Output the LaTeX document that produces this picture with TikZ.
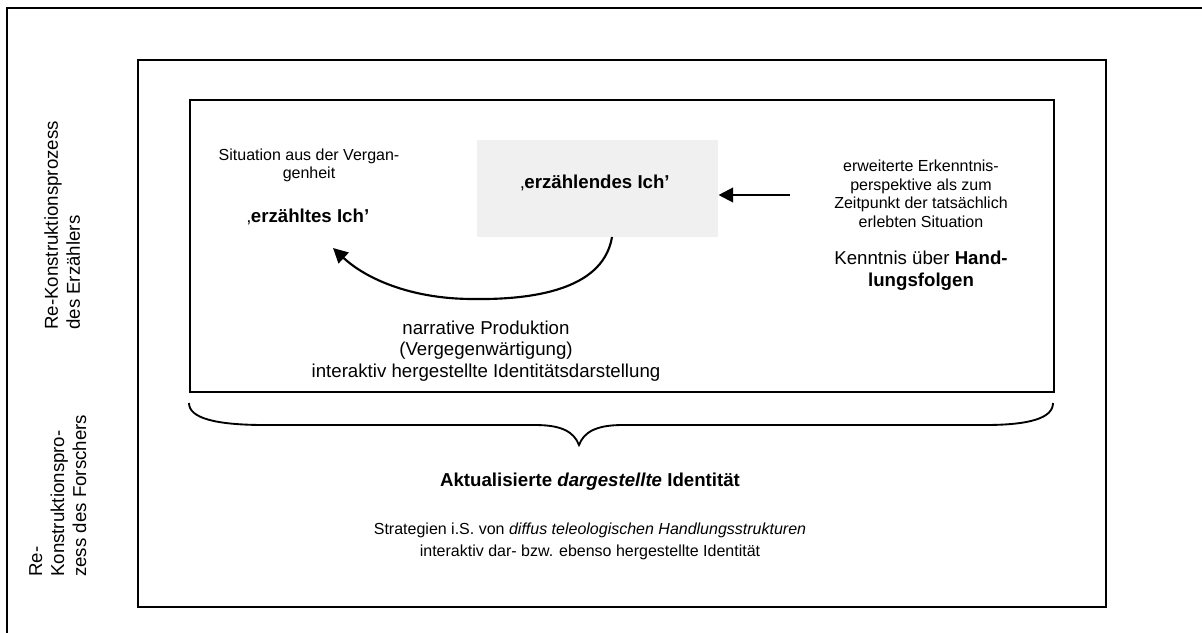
\documentclass[tikz,border=0pt]{standalone}
\usepackage{fontspec}
\setmainfont{Liberation Sans}
\usetikzlibrary{arrows.meta}

\tikzset{
  frame/.style={draw, line width=1.4pt, inner sep=0pt, anchor=north west},
  graybox/.style={fill=black!6, draw=none, inner sep=0pt, anchor=north west},
  small/.style={font=\fontsize{12}{13.9}\selectfont, align=center, inner sep=0pt},
  large/.style={font=\fontsize{14}{16.3}\selectfont, align=center, inner sep=0pt},
  sidetext/.style={font=\fontsize{14}{16.5}\selectfont, align=left, inner sep=0pt,
                   rotate=90, anchor=north west},
  arrowline/.style={line width=1.6pt, -{Triangle[length=11pt,width=11pt]}},
  braceline/.style={line width=1.4pt}
}

\begin{document}
\begin{tikzpicture}[x=0.75pt,y=-0.75pt]
\useasboundingbox (0,0) rectangle (1202,632);
\clip (0,0) rectangle (1202,632);

% outer frame, open towards the page edges
\draw[line width=1.4pt] (7,650) -- (7,8) -- (1220,8);

% boxes
\node[frame, minimum width=726pt, minimum height=410.25pt] (middle) at (137,59) {};
\node[frame, minimum width=648pt, minimum height=219pt] (inner) at (189,99) {};
\node[graybox, minimum width=180.75pt, minimum height=72.75pt] (ich) at (477,140) {};

% side labels
\node[sidetext] (erzaehler) at (44,330) {Re-Konstruktionsprozess\\des Erzählers};
\node[sidetext] (forscher) at (29,577) {Re-\\Konstruktionspro-\\zess des Forschers};

% left column
\node[small] (situation) at (309,165.5) {Situation aus der Vergan-\\genheit};
\node[large] (erzaehlt) at (308,217) {‚\textbf{erzähltes Ich’}};

% centre
\node[large] (ichtext) at (595,183) {‚\textbf{erzählendes Ich’}};

% right column
\node[small] (perspektive) at (921,194) {erweiterte Erkenntnis-\\perspektive als zum\\Zeitpunkt der tatsächlich\\erlebten Situation};
\node[large] (kenntnis) at (921,271) {Kenntnis über \textbf{Hand-}\\\textbf{lungsfolgen}};

% label under the curved arrow
\node[large] (narrativ) at (486,351) {narrative Produktion\\(Vergegenwärtigung)\\interaktiv hergestellte Identitätsdarstellung};

% lower part
\node[large] (aktual) at (590,482) {\textbf{Aktualisierte \textit{dargestellte} Identität}};
\node[small, font=\fontsize{12}{16.5}\selectfont] (strategien) at (590,541)
  {Strategien i.S. von \textit{diffus teleologischen Handlungsstrukturen}\\interaktiv dar- bzw. ebenso hergestellte Identität};

% arrows
\coordinate (perspin) at (790,195);
\draw[arrowline] (perspin) -- (perspin -| ich.east);

\coordinate (curvestart) at (612,237);
\coordinate (curvelow) at (473,299);
\coordinate (curveend) at (333,248);
\draw[arrowline] (curvestart) .. controls (604,285) and (545,300) .. (curvelow)
                 .. controls (410,299) and (365,278) .. (curveend);

% brace below the inner box
\coordinate (braceL) at (189,403);
\coordinate (braceR) at (1053,403);
\coordinate (bracetip) at (579,445);
\draw[braceline] (braceL) .. controls (189,418) and (215,425) .. (265,425)
  -- (535,425) .. controls (562,425) and (574,432) .. (bracetip)
  .. controls (584,432) and (596,425) .. (623,425)
  -- (985,425) .. controls (1030,425) and (1053,418) .. (braceR);
\end{tikzpicture}
\end{document}
